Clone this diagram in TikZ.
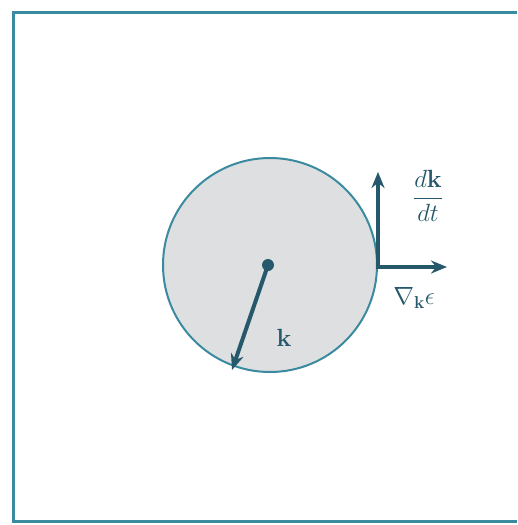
\documentclass[tikz,border=0pt]{standalone}
\usepackage{amsmath,amssymb,bm}
\usetikzlibrary{arrows.meta}
\definecolor{frameteal}{HTML}{3A8AA0}
\definecolor{inkteal}{HTML}{24586A}
\definecolor{circfill}{HTML}{DDDFE0}
\tikzset{
  vec/.style={draw=inkteal, line width=4pt, -{Stealth[length=16pt,width=13pt]}},
  lbl/.style={text=inkteal, font=\fontsize{25}{30}\selectfont},
}
\begin{document}
\begin{tikzpicture}[x=1pt,y=-1pt]
\useasboundingbox (0,0) rectangle (517,525);
\draw[frameteal, line width=3pt] (517,12) -- (13,12) -- (13,521) -- (517,521);
\node[circle, draw=frameteal, line width=2pt, fill=circfill, minimum size=214pt, inner sep=0pt] (fs) at (270,265) {};
\node[circle, fill=inkteal, minimum size=12pt, inner sep=0pt] (c) at (268,265) {};
\coordinate (ktip) at (232,370);
\draw[vec] (c.center) -- (ktip);
\node[lbl] (klab) at (284,338) {$\mathbf{k}$};
\coordinate (o) at (378,267);
\coordinate (up) at (378,172);
\coordinate (rt) at (447,267);
\draw[vec, shorten <=-2pt] (o) -- (up);
\draw[vec, shorten <=-2pt] (o) -- (rt);
\node[lbl] (dkdt) at (428,196) {$\dfrac{d\mathbf{k}}{dt}$};
\node[lbl] (grad) at (414,298) {$\nabla_{\mathbf{k}}\epsilon$};
\end{tikzpicture}
\end{document}
